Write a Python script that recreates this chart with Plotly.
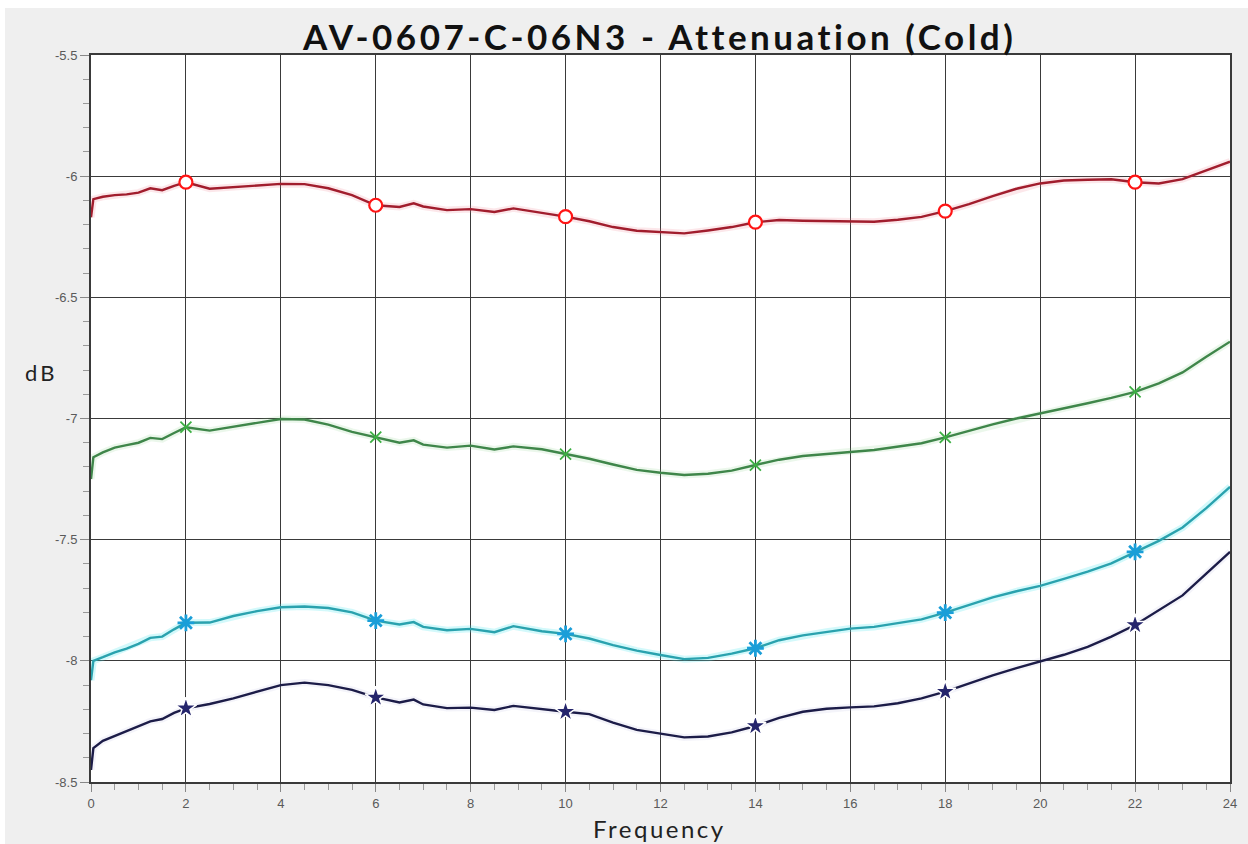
import plotly.graph_objects as go

# ---------------- data ----------------
freq = [0, 0.05, 0.25, 0.5, 0.75, 1.0, 1.25, 1.5, 1.75, 2.0, 2.5, 3.0, 3.5, 4.0, 4.5,
        5.0, 5.5, 6.0, 6.5, 6.8, 7.0, 7.5, 8.0, 8.5, 8.9, 9.5, 10.0, 10.5, 11.0, 11.5,
        12.0, 12.5, 13.0, 13.5, 14.0, 14.5, 15.0, 15.5, 16.0, 16.5, 17.0, 17.5, 18.0,
        18.5, 19.0, 19.5, 20.0, 20.5, 21.0, 21.5, 22.0, 22.5, 23.0, 23.5, 24.0]

red = [-6.17, -6.095, -6.085, -6.078, -6.075, -6.068, -6.05, -6.058, -6.04, -6.025,
       -6.052, -6.046, -6.037, -6.032, -6.033, -6.05, -6.078, -6.12, -6.127, -6.112,
       -6.125, -6.14, -6.136, -6.148, -6.133, -6.152, -6.167, -6.186, -6.21, -6.225,
       -6.229, -6.236, -6.224, -6.21, -6.19, -6.181, -6.184, -6.185, -6.184, -6.188,
       -6.18, -6.168, -6.144, -6.115, -6.082, -6.052, -6.03, -6.018, -6.015, -6.013,
       -6.025, -6.03, -6.012, -5.975, -5.94]

green = [-7.25, -7.16, -7.14, -7.12, -7.11, -7.1, -7.08, -7.085, -7.06, -7.036,
         -7.05, -7.035, -7.02, -7.002, -7.004, -7.025, -7.055, -7.077, -7.1, -7.09,
         -7.108, -7.12, -7.112, -7.128, -7.115, -7.127, -7.147, -7.166, -7.19, -7.212,
         -7.224, -7.233, -7.228, -7.215, -7.192, -7.17, -7.155, -7.145, -7.138, -7.13,
         -7.117, -7.102, -7.078, -7.05, -7.024, -7.0, -6.98, -6.958, -6.937, -6.915,
         -6.89, -6.855, -6.81, -6.745, -6.683]

cyan = [-8.08, -8.0, -7.985, -7.965, -7.95, -7.93, -7.905, -7.9, -7.87, -7.843,
        -7.842, -7.815, -7.795, -7.779, -7.776, -7.782, -7.8, -7.834, -7.85, -7.84,
        -7.86, -7.874, -7.868, -7.882, -7.857, -7.878, -7.889, -7.908, -7.935, -7.958,
        -7.976, -7.993, -7.988, -7.97, -7.948, -7.915, -7.895, -7.88, -7.867, -7.86,
        -7.845, -7.829, -7.801, -7.77, -7.738, -7.713, -7.691, -7.662, -7.632, -7.598,
        -7.55, -7.505, -7.45, -7.37, -7.282]

navy = [-8.45, -8.36, -8.33, -8.31, -8.29, -8.27, -8.25, -8.24, -8.215, -8.196,
        -8.178, -8.155, -8.128, -8.1, -8.09, -8.1, -8.12, -8.151, -8.172, -8.16,
        -8.18, -8.195, -8.193, -8.203, -8.186, -8.2, -8.21, -8.22, -8.255, -8.285,
        -8.302, -8.316, -8.312, -8.295, -8.269, -8.235, -8.21, -8.198, -8.192, -8.188,
        -8.175, -8.155, -8.127, -8.092, -8.06, -8.03, -8.003, -7.975, -7.942, -7.9,
        -7.852, -7.79, -7.73, -7.64, -7.55]

marker_freqs = [2, 6, 10, 14, 18, 22]
x_ticks = list(range(0, 25, 2))
y_ticks = [-5.5, -6, -6.5, -7, -7.5, -8, -8.5]
y_tick_labels = ["-5.5", "-6", "-6.5", "-7", "-7.5", "-8", "-8.5"]

title_text = "AV-0607-C-06N3 - Attenuation (Cold)"
x_title = "Frequency"
y_title = "dB"

# ---------------- figure ----------------
series = [
    (red, "#a11d2d", "rgba(240,120,140,0.18)",
     dict(symbol="circle", size=13, color="white", line=dict(color="#ff1414", width=2.2))),
    (green, "#3f864a", "rgba(120,200,120,0.15)",
     dict(symbol="x-thin-open", size=11, color="#3cb043", line=dict(color="#3cb043", width=1.8))),
    (cyan, "#2aa2ae", "rgba(80,230,240,0.25)",
     dict(symbol="asterisk-open", size=14, color="#1a9ed8", line=dict(color="#1a9ed8", width=2.8))),
    (navy, "#1c1c48", "rgba(180,180,220,0.15)",
     dict(symbol="star", size=16, color="#25256c", line=dict(color="white", width=1.5))),
]

fig = go.Figure()
idx = [freq.index(f) for f in marker_freqs]
for vals, lc, glow, mk in series:
    fig.add_trace(go.Scatter(x=freq, y=vals, mode="lines",
                             line=dict(color=glow, width=7), hoverinfo="skip",
                             showlegend=False))
    fig.add_trace(go.Scatter(x=freq, y=vals, mode="lines",
                             line=dict(color=lc, width=2.4), showlegend=False))
    fig.add_trace(go.Scatter(x=[freq[i] for i in idx], y=[vals[i] for i in idx],
                             mode="markers", marker=mk, showlegend=False))

L, R, T, B = 91, 18, 55, 62
W, H = 1248, 844
pw, ph = W - L - R, H - T - B

def px_x(p):
    return (p - L) / pw

def px_y(p):
    return (H - B - p) / ph

def spaced(text, px):
    return '<span style="letter-spacing:%spx">%s</span>' % (px, text)

tick_font = dict(family="Liberation Sans, Arial, sans-serif", size=13, color="#5a5a5a")

fig.update_layout(
    width=W, height=H,
    margin=dict(l=L, r=R, t=T, b=B),
    paper_bgcolor="#efefef",
    plot_bgcolor="white",
    showlegend=False,
    xaxis=dict(range=[0, 24], tickvals=x_ticks, ticktext=[str(v) for v in x_ticks],
               showgrid=True, gridcolor="#3a3a3a", gridwidth=1,
               ticks="outside", ticklen=8, tickcolor="#888888", tickwidth=1,
               showline=True, linecolor="#3a3a3a", linewidth=2, mirror=True,
               tickfont=tick_font, zeroline=False,
               minor=dict(dtick=0.5, tick0=0, ticks="outside", ticklen=6,
                          tickcolor="#999999", showgrid=False)),
    yaxis=dict(range=[-8.5, -5.5], tickvals=y_ticks, ticktext=y_tick_labels,
               showgrid=True, gridcolor="#3a3a3a", gridwidth=1,
               ticks="outside", ticklen=9, tickcolor="#888888", tickwidth=1,
               showline=True, linecolor="#3a3a3a", linewidth=2, mirror=True,
               tickfont=tick_font, zeroline=False,
               minor=dict(dtick=0.1, tick0=-8.5, ticks="outside", ticklen=6,
                          tickcolor="#999999", showgrid=False)),
    shapes=[dict(type="rect", xref="paper", yref="paper", layer="below",
                 x0=px_x(-2), x1=px_x(5), y0=px_y(-2), y1=px_y(H + 2),
                 fillcolor="white", line=dict(width=0)),
            dict(type="rect", xref="paper", yref="paper", layer="below",
                 x0=px_x(-2), x1=px_x(W + 2), y0=px_y(8), y1=px_y(-2),
                 fillcolor="white", line=dict(width=0))],
    annotations=[
        dict(text="<b>" + spaced(title_text, 3.5) + "</b>", xref="paper", yref="paper",
             x=px_x(659), y=px_y(36), xanchor="center", yanchor="middle",
             showarrow=False, font=dict(family="Lato", size=35, color="#111111")),
        dict(text=spaced(y_title, 3), xref="paper", yref="paper", x=px_x(41), y=px_y(372),
             xanchor="center", yanchor="middle", showarrow=False,
             font=dict(family="Lato", size=22, color="#222222")),
        dict(text=spaced(x_title, 2.5), xref="paper", yref="paper", x=px_x(659), y=px_y(828),
             xanchor="center", yanchor="middle", showarrow=False,
             font=dict(family="Lato", size=24, color="#222222")),
    ],
)

fig.write_html("out.html")
